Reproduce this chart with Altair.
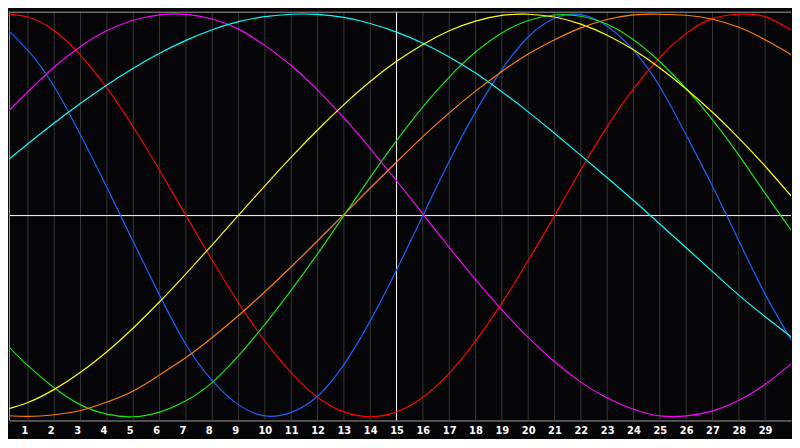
import altair as alt
import pandas as pd

# Day index (x) and the seven cycle curves (values in %)
days = list(range(31))

red = [100, 98.6, 91.8, 79.6, 63.4, 44, 22.5, 0, -22.2, -43.4, -62.3, -78, -90.2, -97.5, -99.9,
       -97.5, -90.2, -78.2, -62.3, -43.5, -22.3, 0, 22.8, 44.2, 63, 78.5, 90.5, 97.8, 100, 98.8, 92]
blue = [95, 82, 64, 40, 14, -13, -39.5, -64, -82, -94, -99.5, -97.7, -89.7, -74, -52.3,
        -27, 0, 27, 51.5, 72.5, 88.7, 98, 99.8, 94, 82, 64, 40, 14.5, -12.5, -39, -62]
green = [-61.5, -74.5, -85.5, -94, -98.6, -99.9, -97.6, -92, -82.8, -69.5, -54, -37, -19, 0, 19,
         37.2, 54, 68.8, 81.2, 90.7, 96.9, 99.6, 99, 95, 87.3, 76.4, 63, 47.5, 30, 11, -7.5]
magenta = [48.5, 61.5, 73.8, 84, 91.9, 97, 99.7, 99.9, 97.6, 92.6, 84.4, 74.5, 62.3, 48.5, 33.3,
           17.3, 0.8, -15.8, -31.8, -46.8, -60.5, -72.6, -82.7, -90.6, -96.2, -99.5, -99.5, -97, -91.7, -83.8, -73.5]
cyan = [25, 35.7, 46, 55.8, 64.9, 73.2, 80.6, 87, 92.3, 96.3, 98.8, 100, 99.9, 98.4, 95.4,
        91.1, 85.6, 78.8, 70.8, 61.5, 51.5, 40.9, 29.9, 18.8, 7.5, -4.2, -16, -27.8, -39.5, -50.2, -60.3]
yellow = [-96.8, -92.8, -86.3, -77.8, -67.6, -55.8, -42.8, -28.9, -14.5, 0.2, 14.8, 29, 42.5, 55.1, 66.6,
          76.6, 85, 91.8, 96.6, 99.4, 100, 98.6, 95.1, 89.6, 82.3, 73.3, 62.9, 51.3, 38.5, 24.5, 9.5]
orange = [-99.2, -99.7, -98.9, -96.8, -92.6, -87.1, -79.1, -70.5, -60.5, -49.6, -37.8, -25.4, -12.5, 0.6, 13.7,
          26.6, 39.2, 51, 61.8, 71.6, 80.2, 87.3, 93.2, 97.4, 99.7, 100, 99.5, 97.5, 93.5, 87.3, 79.8]

series_names = ["red", "blue", "green", "magenta", "cyan", "yellow", "orange"]
series_colors = ["#ff0000", "#1464ff", "#10e810", "#ff00ff", "#00ffff", "#ffff00", "#ff8000"]
series_values = [red, blue, green, magenta, cyan, yellow, orange]
tick_labels = list(range(1, 30))

rows = []
for i, (name, vals) in enumerate(zip(series_names, series_values)):
    for d, v in zip(days, vals):
        rows.append({"day": d, "value": v, "series": name, "order": i})
df = pd.DataFrame(rows)

W, H = 792, 414
xscale = alt.Scale(domain=[0.281, 29.981], nice=False, zero=False)
yscale = alt.Scale(domain=[-101.75, 101.25], nice=False, zero=False)

ticks_df = pd.DataFrame({"day": tick_labels, "label": [str(t) for t in tick_labels]})

grid = alt.Chart(ticks_df).mark_rule(color="#363636", strokeWidth=1).encode(
    x=alt.X("day:Q", scale=xscale,
            axis=alt.Axis(values=tick_labels, grid=False, ticks=False, labels=False,
                          domain=True, domainColor="#a0a0a0", domainWidth=1, title=None)),
)

labels = alt.Chart(ticks_df).mark_text(
    color="#ffffff", font="DejaVu Sans", fontWeight="bold", fontSize=10,
    align="left", baseline="alphabetic", dx=-6.5
).encode(
    x=alt.X("day:Q", scale=xscale),
    y=alt.value(H + 14),
    text="label:N",
)

hline = alt.Chart(pd.DataFrame({"v": [0]})).mark_rule(color="#ffffff", strokeWidth=1).encode(
    y=alt.Y("v:Q", scale=yscale, axis=None)
)
vline = alt.Chart(pd.DataFrame({"d": [15]})).mark_rule(color="#ffffff", strokeWidth=1).encode(
    x=alt.X("d:Q", scale=xscale)
)

one = pd.DataFrame({"a": [0]})
top_border = alt.Chart(one).mark_rule(color="#a0a0a0", strokeWidth=1).encode(
    x=alt.value(0), x2=alt.value(W), y=alt.value(0.5)
)
left_border = alt.Chart(one).mark_rule(color="#a0a0a0", strokeWidth=1).encode(
    x=alt.value(0.5), y=alt.value(0), y2=alt.value(H)
)

lines = alt.Chart(df).mark_line(strokeWidth=1.2, clip=True, interpolate="natural").encode(
    x=alt.X("day:Q", scale=xscale),
    y=alt.Y("value:Q", scale=yscale, axis=None),
    color=alt.Color("series:N", scale=alt.Scale(domain=series_names, range=series_colors), legend=None),
    detail="series:N",
    order="order:Q",
)

chart = alt.layer(grid, hline, vline, top_border, left_border, lines, labels).properties(
    width=W, height=H, padding=0, background="#050508"
).configure_view(stroke=None)

chart.save("out.html", embed_options={"renderer": "svg", "actions": False})
